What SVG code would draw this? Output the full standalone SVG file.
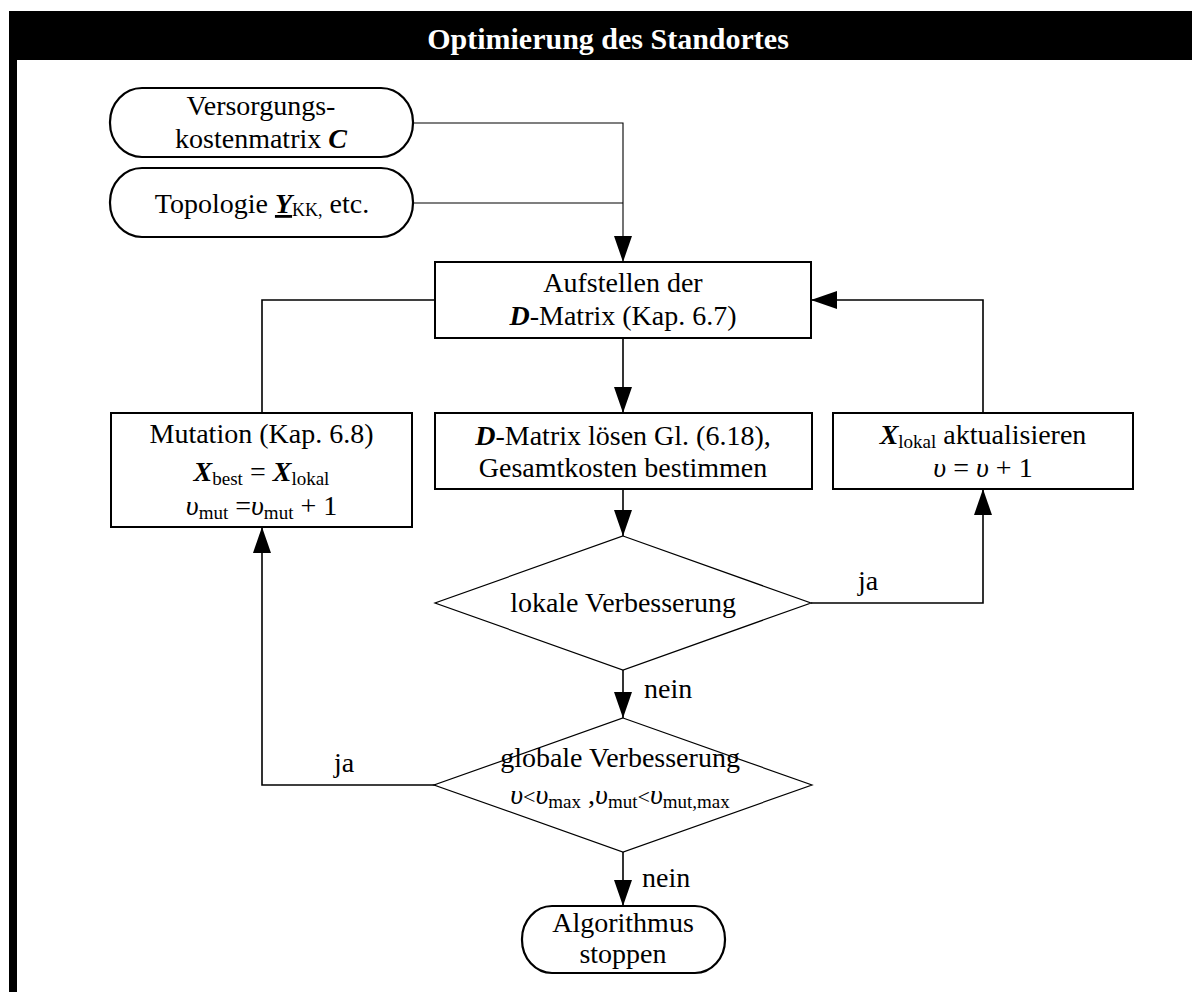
<svg xmlns="http://www.w3.org/2000/svg" width="1192" height="992" viewBox="0 0 1192 992">
<style>
text{font-family:"Liberation Serif","Times New Roman",serif;font-size:28px;fill:#000;text-anchor:middle}
.title{font-weight:bold;font-size:30px;fill:#fff}
.bi{font-weight:bold;font-style:italic}
.it{font-style:italic}
.lbl{text-anchor:start}
.box{fill:#fff;stroke:#000;stroke-width:2}
.pill{fill:#fff;stroke:#000;stroke-width:2.2}
.dia{fill:#fff;stroke:#000;stroke-width:1.2}
.con{fill:none;stroke:#000;stroke-width:1.6}
.thin{fill:none;stroke:#000;stroke-width:1.1}
</style>
<defs>
<marker id="ah" markerUnits="userSpaceOnUse" markerWidth="26" markerHeight="18" refX="26" refY="9" orient="auto">
<path d="M0,0 L26,9 L0,18 z" fill="#000"/>
</marker>
</defs>
<rect x="0" y="0" width="1192" height="992" fill="#fff"/>
<g id="frame">
<rect x="9" y="11" width="1183" height="49" fill="#000"/>
<rect x="9" y="11" width="8" height="981" fill="#000"/>
<text class="title" x="608" y="49">Optimierung des Standortes</text>
</g>
<g id="connectors">
<path class="thin" d="M413,123 H623 V262" marker-end="url(#ah)"/>
<path class="thin" d="M413,203 H623"/>
<path class="con" d="M623,338 V413" marker-end="url(#ah)"/>
<path class="con" d="M435,300 H262 V413"/>
<path class="con" d="M623,489 V536" marker-end="url(#ah)"/>
<path class="con" d="M811,603 H983 V489" marker-end="url(#ah)"/>
<path class="con" d="M983,413 V300 H811" marker-end="url(#ah)"/>
<path class="con" d="M623,670 V718" marker-end="url(#ah)"/>
<path class="con" d="M435,785 H262 V527" marker-end="url(#ah)"/>
<path class="con" d="M623,852 V906" marker-end="url(#ah)"/>
<text class="lbl" x="858" y="590">ja</text>
<text class="lbl" x="644" y="698">nein</text>
<text class="lbl" x="334" y="772">ja</text>
<text class="lbl" x="642" y="887">nein</text>
</g>
<g id="input-c">
<rect class="pill" x="110" y="88" width="303" height="69" rx="32" ry="34"/>
<text x="261" y="115">Versorgungs-</text>
<text x="261" y="148">kostenmatrix <tspan class="bi">C</tspan></text>
</g>
<g id="input-topo">
<rect class="pill" x="110" y="168" width="303" height="69" rx="32" ry="34"/>
<text x="262" y="213">Topologie <tspan class="bi" text-decoration="underline">Y</tspan><tspan font-size="18" dy="3">KK,</tspan><tspan dy="-3"> etc.</tspan></text>
</g>
<g id="aufstellen">
<rect class="box" x="435" y="262" width="376" height="76"/>
<text x="623" y="292">Aufstellen der</text>
<text x="623" y="325"><tspan class="bi">D</tspan>-Matrix (Kap. 6.7)</text>
</g>
<g id="mutation">
<rect class="box" x="111" y="413" width="301" height="114"/>
<text x="261.5" y="443">Mutation (Kap. 6.8)</text>
<text x="261.5" y="481"><tspan class="bi">X</tspan><tspan font-size="19" dy="4">best</tspan><tspan dy="-4"> = </tspan><tspan class="bi">X</tspan><tspan font-size="19" dy="4">lokal</tspan></text>
<text x="261.5" y="515"><tspan class="it">υ</tspan><tspan font-size="19" dy="4">mut</tspan><tspan dy="-4"> =</tspan><tspan class="it">υ</tspan><tspan font-size="19" dy="4">mut</tspan><tspan dy="-4"> + 1</tspan></text>
</g>
<g id="loesen">
<rect class="box" x="435" y="413" width="377" height="76"/>
<text x="623" y="445"><tspan class="bi">D</tspan>-Matrix lösen Gl. (6.18),</text>
<text x="623" y="477">Gesamtkosten bestimmen</text>
</g>
<g id="xlokal">
<rect class="box" x="833" y="413" width="300" height="76"/>
<text x="983" y="444"><tspan class="bi">X</tspan><tspan font-size="19" dy="4">lokal</tspan><tspan dy="-4"> aktualisieren</tspan></text>
<text x="983" y="477"><tspan class="it">υ</tspan> = <tspan class="it">υ</tspan> + 1</text>
</g>
<g id="lokal">
<polygon class="dia" points="623,536 811,603 623,670 435,603"/>
<text x="623" y="612">lokale Verbesserung</text>
</g>
<g id="global">
<polygon class="dia" points="623,718 812,785 623,852 434,785"/>
<text x="620" y="767">globale Verbesserung</text>
<text x="620" y="804"><tspan class="it">υ</tspan><tspan font-size="22">&lt;</tspan><tspan class="it">υ</tspan><tspan font-size="19" dy="4">max</tspan><tspan dy="-4"> ,</tspan><tspan class="it">υ</tspan><tspan font-size="19" dy="4">mut</tspan><tspan dy="-4" font-size="22">&lt;</tspan><tspan class="it">υ</tspan><tspan font-size="19" dy="4">mut,max</tspan></text>
</g>
<g id="stop">
<rect class="pill" x="522" y="906" width="203" height="67" rx="30" ry="33"/>
<text x="623" y="932">Algorithmus</text>
<text x="623" y="963">stoppen</text>
</g>
</svg>
